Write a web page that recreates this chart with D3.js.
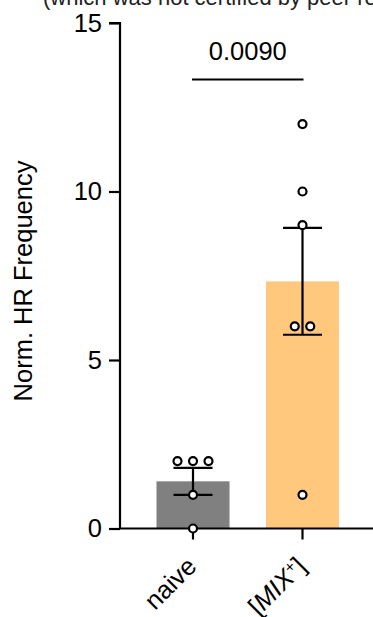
<!DOCTYPE html>
<html>
<head>
<meta charset="utf-8">
<script src="https://cdn.jsdelivr.net/npm/d3@7"></script>
<style>
  html, body { margin: 0; padding: 0; background: #fff; }
  svg { display: block; font-family: "Liberation Sans", Arial, sans-serif; }
</style>
</head>
<body>
<svg id="chart" width="373" height="617"></svg>
<script>
// Groups and individual measurements
const categories = ["naive", "[MIX+]"];
const barColors = ["#808080", "#FFC87D"];
const naiveValues = [2, 2, 2, 1, 0];
const mixValues = [12, 10, 9, 6, 6, 1];
// horizontal jitter of points within each group (in point-spacing units)
const naiveJitter = [-1, 0, 1, 0, 0];
const mixJitter = [0, 0, 0, -0.5, 0.5, 0];
const yTicks = [0, 5, 10, 15];
const pValueLabel = "0.0090";
const yAxisTitle = "Norm. HR Frequency";
const headerText = "(which was not certified by peer review) is the author/funder, who has granted bioRxiv a license";

const W = 373, H = 617;
const svg = d3.select("#chart");

const y = d3.scaleLinear().domain([0, 15]).range([528.5, 23]);
const x = d3.scaleBand().domain(categories)
  .range([138.25, 357.25]).paddingInner(1 / 3).paddingOuter(1 / 6);
const axisX = 120;

const mean = a => d3.mean(a);
const sem = a => d3.deviation(a) / Math.sqrt(a.length);

const groups = [
  { name: categories[0], values: naiveValues, jitter: naiveJitter, color: barColors[0] },
  { name: categories[1], values: mixValues, jitter: mixJitter, color: barColors[1] }
];

// header line from the page above
svg.append("text")
  .attr("x", 43).attr("y", 5)
  .attr("font-size", 22).attr("fill", "#222")
  .text(headerText);

// bars
svg.selectAll("rect.bar").data(groups).enter().append("rect")
  .attr("class", "bar")
  .attr("x", d => x(d.name))
  .attr("width", x.bandwidth())
  .attr("y", d => y(mean(d.values)))
  .attr("height", d => y(0) - y(mean(d.values)))
  .attr("fill", d => d.color);

// error bars (mean ± SEM)
const capHalf = 19.5;
groups.forEach(g => {
  const cx = x(g.name) + x.bandwidth() / 2;
  const m = mean(g.values), s = sem(g.values);
  const eg = svg.append("g").attr("stroke", "#000").attr("stroke-width", 2.2);
  eg.append("line").attr("x1", cx).attr("x2", cx).attr("y1", y(m - s)).attr("y2", y(m + s));
  [m - s, m + s].forEach(v => {
    eg.append("line").attr("x1", cx - capHalf).attr("x2", cx + capHalf)
      .attr("y1", y(v)).attr("y2", y(v));
  });
});

// x axis line and ticks
svg.append("line").attr("x1", axisX - 1).attr("x2", W)
  .attr("y1", y(0)).attr("y2", y(0))
  .attr("stroke", "#000").attr("stroke-width", 2.2);
const xAxis = d3.axisBottom(x).tickSize(11).tickFormat("");
svg.append("g").attr("transform", `translate(0,${y(0)})`).call(xAxis)
  .call(g => g.select(".domain").remove())
  .call(g => g.selectAll("line").attr("stroke", "#000").attr("stroke-width", 2.2));

// y axis
const yAxis = d3.axisLeft(y).tickValues(yTicks).tickSize(11).tickPadding(7);
svg.append("g").attr("transform", `translate(${axisX},0)`).call(yAxis)
  .call(g => g.select(".domain").attr("d", `M-11,${y(15)}H0V${y(0)}`).attr("stroke", "#000").attr("stroke-width", 2.2))
  .call(g => g.selectAll("line").attr("stroke", "#000").attr("stroke-width", 2.2))
  .call(g => g.selectAll("text").attr("font-size", 25.5).attr("fill", "#000")
    .attr("font-family", "Liberation Sans, Arial, sans-serif"));

// individual points
const pointSpacing = 15.5;
groups.forEach(g => {
  const cx = x(g.name) + x.bandwidth() / 2;
  svg.selectAll(null).data(g.values.map((v, i) => ({ v, j: g.jitter[i] })))
    .enter().append("circle")
    .attr("cx", d => cx + d.j * pointSpacing)
    .attr("cy", d => y(d.v))
    .attr("r", 4)
    .attr("fill", "#fff")
    .attr("stroke", "#000")
    .attr("stroke-width", 2.2);
});

// y axis title
svg.append("text")
  .attr("transform", `translate(31.5,${281}) rotate(-90)`)
  .attr("text-anchor", "middle")
  .attr("font-size", 25.5)
  .attr("fill", "#000")
  .text(yAxisTitle);

// x category labels, rotated
const labelG = svg.append("g");
groups.forEach(g => {
  const cx = x(g.name) + x.bandwidth() / 2;
  const t = labelG.append("text")
    .attr("transform", `translate(${cx + 5},${568}) rotate(-45)`)
    .attr("text-anchor", "end")
    .attr("font-size", 25.5)
    .attr("fill", "#000");
  if (g.name === "naive") {
    t.text("naive");
  } else {
    t.append("tspan").text("[");
    t.append("tspan").attr("font-style", "italic").text("MIX");
    t.append("tspan").attr("baseline-shift", "super").attr("font-size", 16).text("+");
    t.append("tspan").text("]");
  }
});

// significance bracket
const c0 = x(categories[0]) + x.bandwidth() / 2;
const c1 = x(categories[1]) + x.bandwidth() / 2;
svg.append("line").attr("x1", c0 - 1).attr("x2", c1 + 1)
  .attr("y1", 79.5).attr("y2", 79.5)
  .attr("stroke", "#000").attr("stroke-width", 2.2);
svg.append("text")
  .attr("x", (c0 + c1) / 2).attr("y", 60)
  .attr("text-anchor", "middle")
  .attr("font-size", 25.5).attr("fill", "#000")
  .text(pValueLabel);
</script>
</body>
</html>
